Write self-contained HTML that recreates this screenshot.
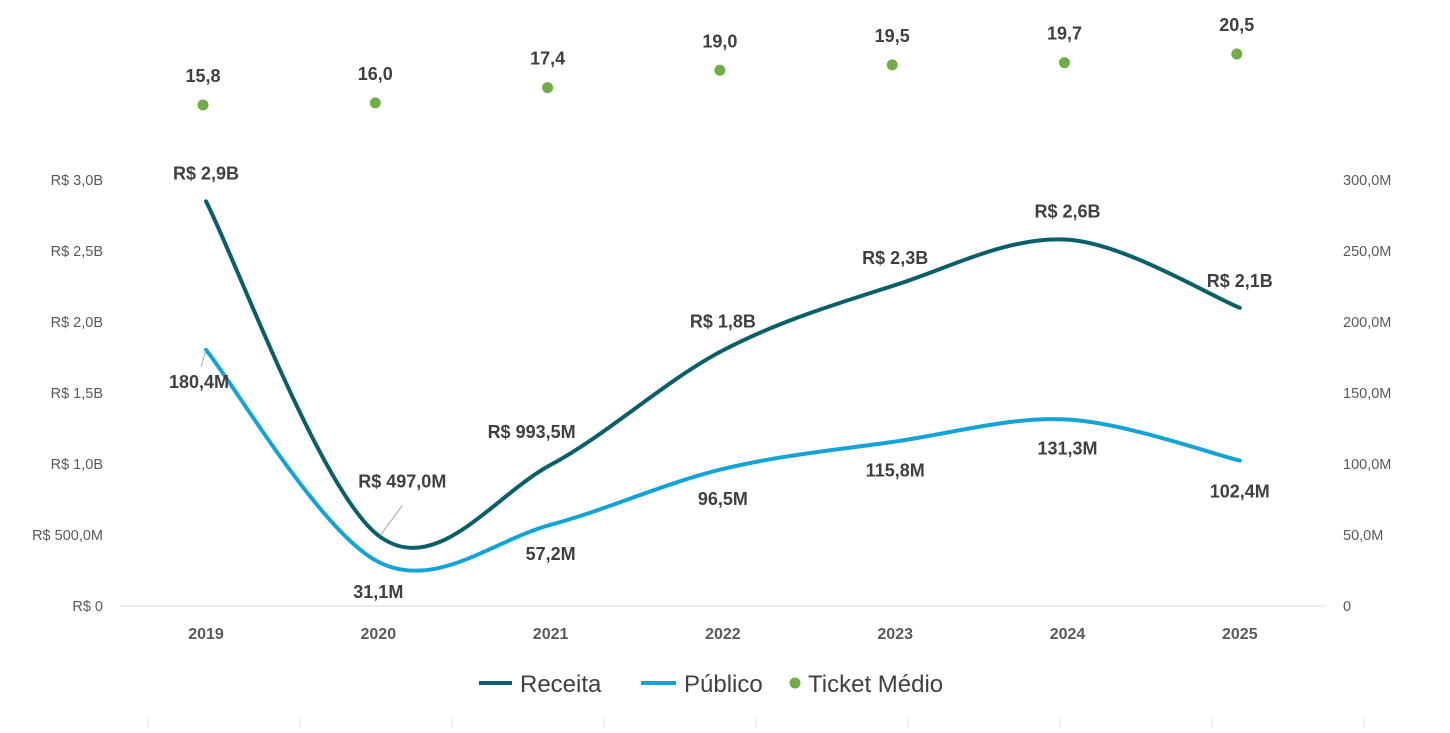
<!DOCTYPE html>
<html><head><meta charset="utf-8"><style>
body{margin:0;background:#fff;width:1450px;height:728px;overflow:hidden}
svg text{font-family:"Liberation Sans",Arial,sans-serif}
</style></head><body>
<svg id="chart" width="1450" height="728" xmlns="http://www.w3.org/2000/svg"></svg>
<script>
const years=["2019","2020","2021","2022","2023","2024","2025"];
const receita=[2.85,0.497,0.9935,1.8,2.26,2.58,2.1];
const receitaLabels=["R$ 2,9B","R$ 497,0M","R$ 993,5M","R$ 1,8B","R$ 2,3B","R$ 2,6B","R$ 2,1B"];
const publico=[180.4,31.1,57.2,96.5,115.8,131.3,102.4];
const publicoLabels=["180,4M","31,1M","57,2M","96,5M","115,8M","131,3M","102,4M"];
const ticket=[15.8,16.0,17.4,19.0,19.5,19.7,20.5];
const ticketLabels=["15,8","16,0","17,4","19,0","19,5","19,7","20,5"];
const leftTicks=[0,0.5,1,1.5,2,2.5,3];
const leftTickLabels=["R$ 0","R$ 500,0M","R$ 1,0B","R$ 1,5B","R$ 2,0B","R$ 2,5B","R$ 3,0B"];
const rightTicks=[0,50,100,150,200,250,300];
const rightTickLabels=["0","50,0M","100,0M","150,0M","200,0M","250,0M","300,0M"];

const svg=document.getElementById('chart');
const NS="http://www.w3.org/2000/svg";
const x=i=>206+i*172.3;
const yL=v=>606-v*142;
const yR=v=>606-v*1.42;
const yT=v=>105-(v-15.8)*10.85;
function el(tag,attrs,parent){const e=document.createElementNS(NS,tag);for(const k in attrs)e.setAttribute(k,attrs[k]);(parent||svg).appendChild(e);return e;}
function txt(s,x0,y0,attrs){const t=el('text',Object.assign({x:x0,y:y0},attrs));t.textContent=s;return t;}

const axis=el('line',{x1:120,x2:1326,y1:606,y2:606,stroke:'#d9d9d9','stroke-width':1});


leftTicks.forEach((v,i)=>{const t=txt(leftTickLabels[i],103,yL(v)+5,{'text-anchor':'end','font-size':14.5,fill:'#595959'});

});
rightTicks.forEach((v,i)=>{const t=txt(rightTickLabels[i],1343,yR(v)+5,{'font-size':14.5,fill:'#595959'});

});
years.forEach((y,i)=>{const t=txt(y,x(i),639,{'text-anchor':'middle','font-size':16,'font-weight':'bold',fill:'#595959'});

});
for(let i=0;i<9;i++){const l=el('line',{x1:148+i*152,x2:148+i*152,y1:718,y2:728,stroke:'#e4e4e4'});

}

function smooth(pts){let d=`M${pts[0][0]},${pts[0][1]}`;
for(let i=0;i<pts.length-1;i++){const p0=pts[Math.max(0,i-1)],p1=pts[i],p2=pts[i+1],p3=pts[Math.min(pts.length-1,i+2)];
const c1=[p1[0]+(p2[0]-p0[0])/6,p1[1]+(p2[1]-p0[1])/6],c2=[p2[0]-(p3[0]-p1[0])/6,p2[1]-(p3[1]-p1[1])/6];
d+=` C${c1[0]},${c1[1]} ${c2[0]},${c2[1]} ${p2[0]},${p2[1]}`;}return d;}
const lr=el('path',{d:smooth(receita.map((v,i)=>[x(i),yL(v)])),fill:'none',stroke:'#0b5f6b','stroke-width':4,'stroke-linecap':'round'});


const lp=el('path',{d:smooth(publico.map((v,i)=>[x(i),yR(v)])),fill:'none',stroke:'#13a3d6','stroke-width':4,'stroke-linecap':'round'});



const lab={'font-size':18,'font-weight':'bold',fill:'#404040','text-anchor':'middle'};
const rOff=[[0,-22],[24,-48],[-19,-27],[0,-23],[0,-21],[0,-22],[0,-21]];
receita.forEach((v,i)=>{const t=txt(receitaLabels[i],x(i)+rOff[i][0],yL(v)+rOff[i][1],lab);

});
const pOff=[[-7,38],[0,36],[0,35],[0,36],[0,35],[0,35],[0,37]];
publico.forEach((v,i)=>{const t=txt(publicoLabels[i],x(i)+pOff[i][0],yR(v)+pOff[i][1],lab);

});
const l1=el('line',{x1:x(0),y1:yR(publico[0]),x2:x(0)-5,y2:yR(publico[0])+17,stroke:'#a6a6a6'});


const l2=el('line',{x1:x(1)+2,y1:yL(receita[1]),x2:x(1)+24,y2:yL(receita[1])-30,stroke:'#a6a6a6'});



ticket.forEach((v,i)=>{const c=el('circle',{cx:x(i)-3,cy:yT(v),r:5.5,fill:'#70ad47'});


const t=txt(ticketLabels[i],x(i)-3,yT(v)-23,lab);

});

const lg=el('g',{});


el('line',{x1:479,x2:512,y1:683,y2:683,stroke:'#0b5f6b','stroke-width':4},lg);
const lt1=txt('Receita',520,692,{'font-size':24,fill:'#404040'});


el('line',{x1:641,x2:676,y1:683,y2:683,stroke:'#13a3d6','stroke-width':4},lg);
const lt2=txt('Público',684,692,{'font-size':24,fill:'#404040'});


el('circle',{cx:795,cy:683,r:5.5,fill:'#70ad47'},lg);
const lt3=txt('Ticket Médio',808,692,{'font-size':24,fill:'#404040'});


</script>
</body></html>
